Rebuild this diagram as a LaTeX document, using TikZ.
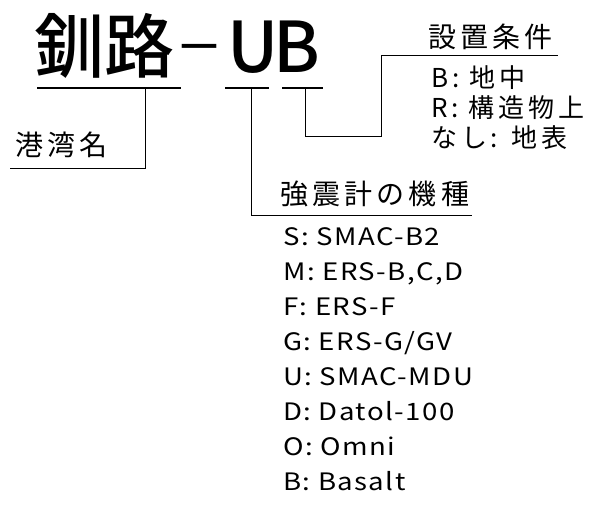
\documentclass[tikz,border=0pt]{standalone}
\usepackage{fontspec}
\setmainfont{Noto Sans CJK JP}
\newfontfamily\spacedfont{Noto Sans CJK JP}[LetterSpace=15]
\newfontfamily\listfont{Noto Sans CJK JP}[FakeStretch=1.15,LetterSpace=6]
\newfontfamily\titlefont{Noto Sans CJK JP Medium}
\begin{document}
\begin{tikzpicture}[x=1pt,y=-1pt,
  lbl/.style={anchor=base west, inner sep=0pt, font=\spacedfont\fontsize{28}{30}\selectfont},
  cond/.style={anchor=base west, inner sep=0pt, font=\spacedfont\fontsize{26}{28}\selectfont},
  item/.style={anchor=base west, inner sep=0pt, font=\listfont\fontsize{24}{26}\selectfont},
  title/.style={anchor=base west, inner sep=0pt, font=\titlefont\fontsize{70}{72}\selectfont},
  uline/.style={line width=1.5pt},
  conn/.style={line width=1pt}]
\useasboundingbox (0,0) rectangle (602,514);
% title
\node[title] (t1) at (34,72) {釧路};
\node[anchor=base west, inner sep=0pt, font=\titlefont\fontsize{48}{50}\selectfont] (dash) at (175,64) {－};
\node[title] (tU) at (227,72) {U};
\node[title] (tB) at (273,72) {B};
% underlines
\coordinate (u1a) at (37,88);  \coordinate (u1b) at (181,88);
\coordinate (u2a) at (225,88); \coordinate (u2b) at (269,88);
\coordinate (u3a) at (282,88); \coordinate (u3b) at (323,88);
\draw[uline] (u1a) -- (u1b);
\draw[uline] (u2a) -- (u2b);
\draw[uline] (u3a) -- (u3b);
% connector start points
\coordinate (c1) at (145,88);
\coordinate (c2) at (251,88);
\coordinate (c3) at (305,88);
% labels
\node[lbl] (port) at (15,155) {港湾名};
\node[lbl] (model) at (280,204) {強震計の機種};
\node[lbl] (place) at (428,47) {設置条件};
% connector corner/end points
\coordinate (k1) at (145,168); \coordinate (e1) at (10,168);
\coordinate (k2) at (251,215); \coordinate (e2) at (472,215);
\coordinate (k3a) at (305,136); \coordinate (k3b) at (381,136);
\coordinate (k3c) at (381,55); \coordinate (e3) at (558,55);
\draw[conn] (c1) -- (k1) -- (e1);
\draw[conn] (c2) -- (k2) -- (e2);
\draw[conn] (c3) -- (k3a) -- (k3b) -- (k3c) -- (e3);
% installation conditions
\node[cond] (p1) at (431,87) {B: 地中};
\node[cond] (p2) at (431,117) {R: 構造物上};
\node[cond] (p3) at (431,147) {なし: 地表};
% instrument types
\node[item] (m1) at (283,245) {S: SMAC-B2};
\node[item] (m2) at (283,280) {M: ERS-B,C,D};
\node[item] (m3) at (283,315) {F: ERS-F};
\node[item] (m4) at (283,350) {G: ERS-G/GV};
\node[item] (m5) at (283,385) {U: SMAC-MDU};
\node[item] (m6) at (283,420) {D: Datol-100};
\node[item] (m7) at (283,455) {O: Omni};
\node[item] (m8) at (283,490) {B: Basalt};
\end{tikzpicture}
\end{document}
